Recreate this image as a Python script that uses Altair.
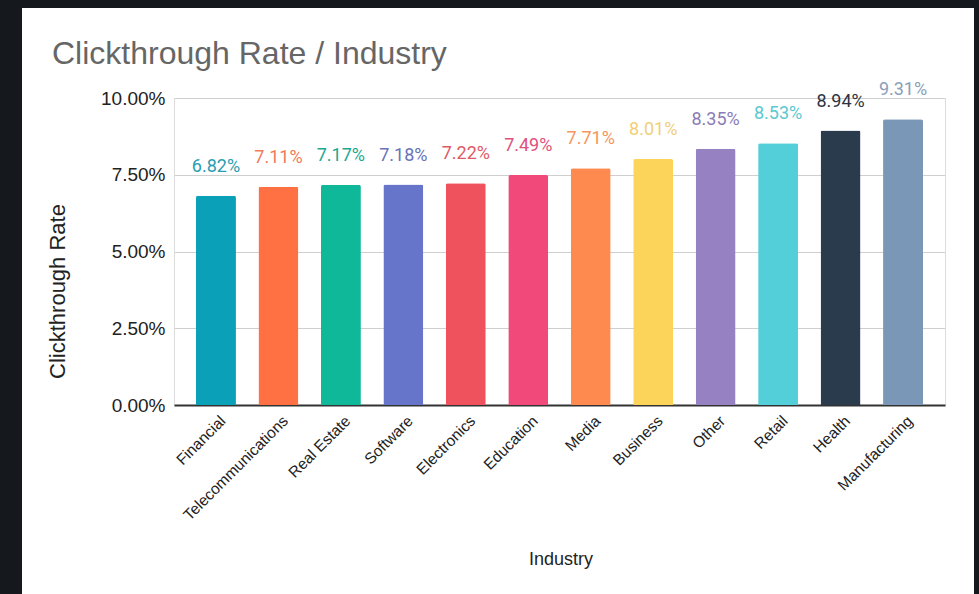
import altair as alt
import pandas as pd

industries = ["Financial", "Telecommunications", "Real Estate", "Software", "Electronics",
              "Education", "Media", "Business", "Other", "Retail", "Health", "Manufacturing"]
rates = [6.82, 7.11, 7.17, 7.18, 7.22, 7.49, 7.71, 8.01, 8.35, 8.53, 8.94, 9.31]
bar_colors = ["#0aa0b8", "#ff7043", "#10b89a", "#6674c9", "#ef525c", "#f0497a",
              "#ff8a50", "#fdd45a", "#9681c2", "#52cfd8", "#2b3b4e", "#7a97b8"]
label_colors = ["#2a9db0", "#f07a5a", "#1aa892", "#6a72b8", "#e05a62", "#e0507c",
                "#f5955e", "#f0cf78", "#8a7cb6", "#5cc8d0", "#2b3442", "#8aa0b8"]
y_ticks = [0, 0.025, 0.05, 0.075, 0.10]
chart_title = ["Clickthrough Rate / Industry"]

df = pd.DataFrame({
    "Industry": industries,
    "rate": [r / 100 for r in rates],
    "color": bar_colors,
    "lcolor": label_colors,
})

FONT = "Liberation Sans"
W, H = 771, 307
L, T = 174, 98
DARK = "#15181c"

x_enc = alt.X("Industry:N", sort=industries,
              scale=alt.Scale(paddingInner=0.36, paddingOuter=0.352),
              axis=alt.Axis(labelAngle=315, labelAlign="right", labelBaseline="middle",
                            labelPadding=13, labelOffset=7, labelFontSize=15.5, labelFont=FONT,
                            labelColor="#222222", ticks=False, domainColor="#333333",
                            domainWidth=2, title="Industry", titleFont=FONT,
                            titleFontSize=18, titleFontWeight="normal", titleColor="#222222",
                            titleX=W / 2 + 1, titleY=154, titleBaseline="middle",
                            titleAlign="center"))
y_enc = alt.Y("rate:Q", scale=alt.Scale(domain=[0, 0.10], nice=False),
              axis=alt.Axis(values=y_ticks, format=".2%", labelFontSize=19, labelFont=FONT,
                            labelColor="#222222", labelPadding=9, ticks=False, domain=False,
                            gridColor="#cfcfcf", title="Clickthrough Rate", titleFont=FONT,
                            titleFontSize=22, titleFontWeight="normal", titleColor="#222222",
                            titleAngle=270, titleX=-117, titleY=193, titleAlign="center",
                            titleBaseline="middle"))

base = alt.Chart(df)
bars = base.mark_bar(cornerRadiusTopLeft=2, cornerRadiusTopRight=2).encode(
    x=x_enc, y=y_enc, color=alt.Color("color:N", scale=None))
labels = base.mark_text(dy=-29, fontSize=18, font="Roboto", baseline="middle").encode(
    x=alt.X("Industry:N", sort=industries), y="rate:Q",
    text=alt.Text("rate:Q", format=".2%"),
    color=alt.Color("lcolor:N", scale=None))

title_mark = alt.Chart(pd.DataFrame({"t": chart_title})).mark_text(
    align="left", baseline="alphabetic", fontSize=32, font=FONT, color="#666666"
).encode(text="t:N", x=alt.value(52 - L), y=alt.value(64 - T))

one = alt.Chart(pd.DataFrame({"a": [0]}))
frame_left = one.mark_rect(color=DARK).encode(
    x=alt.value(-L), x2=alt.value(22 - L), y=alt.value(-T), y2=alt.value(594 - T))
frame_top = one.mark_rect(color=DARK).encode(
    x=alt.value(-L), x2=alt.value(979 - L), y=alt.value(-T), y2=alt.value(8 - T))
frame_right = one.mark_rect(color=DARK).encode(
    x=alt.value(974 - L), x2=alt.value(979 - L), y=alt.value(-T), y2=alt.value(594 - T))

chart = alt.layer(frame_left, frame_top, frame_right, bars, labels, title_mark).properties(
    width=W, height=H,
    autosize=alt.AutoSizeParams(type="none"),
    padding={"left": L, "top": T, "right": 979 - L - W, "bottom": 594 - T - H},
).configure_view(stroke=None).configure(background="white")

chart.save("out.html", embed_options={"renderer": "svg", "actions": False})
